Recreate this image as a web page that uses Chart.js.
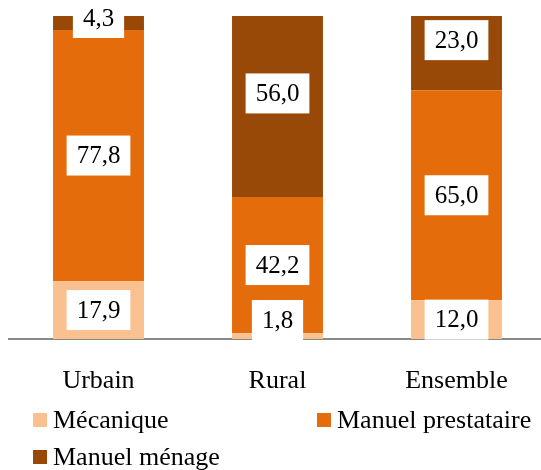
<!DOCTYPE html>
<html>
<head>
<meta charset="utf-8">
<script src="https://cdn.jsdelivr.net/npm/chart.js@4/dist/chart.umd.min.js"></script>
<style>
html,body{margin:0;padding:0;background:#fff;}
#wrap{position:relative;width:541px;height:470px;overflow:hidden;}
canvas{position:absolute;left:0;top:0;}
.lg{position:absolute;display:flex;align-items:center;font-family:"Liberation Serif","Times New Roman",serif;font-size:26px;color:#000;white-space:nowrap;line-height:1;}
.lg span.box{display:inline-block;width:14px;height:14px;margin-right:6px;}
</style>
</head>
<body>
<div id="wrap">
<canvas id="c" width="550" height="470"></canvas>
</div>
<script>
const categories = ["Urbain", "Rural", "Ensemble"];
const seriesNames = ["Mécanique", "Manuel prestataire", "Manuel ménage"];
const mecanique = [17.9, 1.8, 12.0];
const manuelPrestataire = [77.8, 42.2, 65.0];
const manuelMenage = [4.3, 56.0, 23.0];
const colors = ["#FAC090", "#E46C0A", "#984807"];

const FONT = '"Liberation Serif","Times New Roman",serif';
const values = [mecanique, manuelPrestataire, manuelMenage];

const labelPlugin = {
  id: 'boxLabels',
  afterDatasetsDraw(chart) {
    const ctx = chart.ctx;
    const last = chart.data.datasets.length - 1;
    const area = chart.chartArea;
    ctx.save();
    ctx.font = '25px ' + FONT;
    ctx.textAlign = 'center';
    ctx.textBaseline = 'middle';
    chart.data.datasets.forEach((ds, di) => {
      const meta = chart.getDatasetMeta(di);
      meta.data.forEach((bar, i) => {
        const v = ds.data[i];
        const p = bar.getProps(['x', 'y', 'base'], true);
        const top = Math.min(p.y, p.base), bot = Math.max(p.y, p.base);
        let cy = (top + bot) / 2;
        if (di === last) cy = Math.max(cy - 13, area.top + 2);
        const txt = v.toFixed(1).replace('.', ',');
        const w = ctx.measureText(txt).width + 20, bh = 40;
        cy = Math.min(cy, area.bottom + 1 - bh / 2);
        ctx.fillStyle = '#fff';
        ctx.fillRect(p.x - w / 2, cy - bh / 2, w, bh);
        ctx.fillStyle = '#000';
        ctx.fillText(txt, p.x, cy + 1);
      });
    });
    ctx.restore();
  }
};

new Chart(document.getElementById('c'), {
  type: 'bar',
  data: {
    labels: categories,
    datasets: seriesNames.map((n, k) => ({
      label: n,
      data: values[k],
      backgroundColor: colors[k],
      borderWidth: 0,
      barPercentage: 0.508,
      categoryPercentage: 1.0
    }))
  },
  options: {
    responsive: false,
    animation: false,
    layout: { padding: { top: 16, left: 9, right: 4, bottom: 0 } },
    plugins: { legend: { display: false }, tooltip: { enabled: false } },
    scales: {
      x: {
        stacked: true,
        grid: { display: false, drawTicks: false },
        border: { display: true, color: '#888', width: 2 },
        ticks: { color: '#000', font: { family: FONT, size: 26 }, padding: 27 },
        afterFit: (s) => { s.height = 131; }
      },
      y: {
        stacked: true,
        display: false,
        min: 0,
        max: 100
      }
    }
  },
  plugins: [labelPlugin]
});

// HTML legend built from the series arrays
const wrap = document.getElementById('wrap');
const legendPos = [[33, 420], [317, 420], [33, 457]];
seriesNames.forEach((n, k) => {
  const d = document.createElement('div');
  d.className = 'lg';
  d.style.left = legendPos[k][0] + 'px';
  d.style.top = (legendPos[k][1] - 14) + 'px';
  d.style.height = '28px';
  const b = document.createElement('span');
  b.className = 'box';
  b.style.background = colors[k];
  const t = document.createElement('span');
  t.textContent = n;
  d.appendChild(b);
  d.appendChild(t);
  wrap.appendChild(d);
});
</script>
</body>
</html>
